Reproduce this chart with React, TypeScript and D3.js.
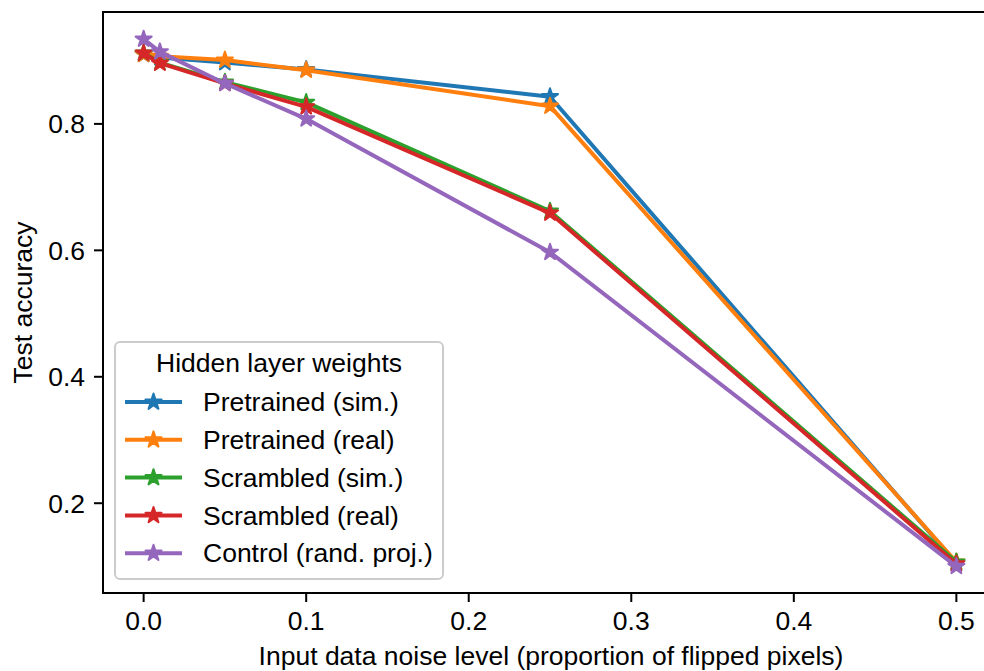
import React from "react";
import * as d3 from "d3";

const noiseLevels = [0, 0.01, 0.05, 0.1, 0.25, 0.5];
const pretrainedSim = [0.91, 0.905, 0.897, 0.886, 0.843, 0.105];
const pretrainedReal = [0.91, 0.907, 0.901, 0.885, 0.828, 0.107];
const scrambledSim = [0.912, 0.897, 0.866, 0.834, 0.662, 0.107];
const scrambledReal = [0.912, 0.896, 0.864, 0.827, 0.659, 0.104];
const controlProj = [0.934, 0.914, 0.864, 0.808, 0.597, 0.1];

const seriesNames = [
  "Pretrained (sim.)",
  "Pretrained (real)",
  "Scrambled (sim.)",
  "Scrambled (real)",
  "Control (rand. proj.)",
];
const seriesValues = [pretrainedSim, pretrainedReal, scrambledSim, scrambledReal, controlProj];
const colors = ["#1f77b4", "#ff7f0e", "#2ca02c", "#d62728", "#9467bd"];

const xTicks = [0, 0.1, 0.2, 0.3, 0.4, 0.5];
const yTicks = [0.2, 0.4, 0.6, 0.8];

const W = 984;
const H = 671;
const FONT = "'Liberation Sans', Arial, sans-serif";
const FS = 26.5;

export default function App() {
  const x = d3.scaleLinear().domain([-0.025, 0.525]).range([103, 997]);
  const y = d3.scaleLinear().domain([0.058, 0.977]).range([593, 12]);
  const line = d3
    .line<[number, number]>()
    .x((d) => x(d[0]))
    .y((d) => y(d[1]));
  const star = d3.symbol().type(d3.symbolStar).size(80)();

  const left = x(-0.025);
  const right = x(0.525);
  const top = y(0.977);
  const bottom = y(0.058);

  const legX = 115;
  const legY = 342;
  const legW = 328;
  const legH = 237;
  const rowY = (i: number) => 402 + i * 37.8;

  return (
    <svg
      width={W}
      height={H}
      style={{ position: "absolute", left: 0, top: 0, background: "#fff" }}
      fontFamily={FONT}
    >
      <rect x={0} y={0} width={W} height={H} fill="#fff" />
      {seriesValues.map((vals, si) => {
        const pts: [number, number][] = noiseLevels.map((n, i) => [n, vals[i]]);
        return (
          <g key={si}>
            <path d={line(pts) || ""} fill="none" stroke={colors[si]} strokeWidth={4} strokeLinejoin="round" />
            {pts.map((p, i) => (
              <path
                key={i}
                d={star || ""}
                transform={`translate(${x(p[0])},${y(p[1])})`}
                fill={colors[si]}
                stroke={colors[si]}
                strokeWidth={2}
                strokeLinejoin="round"
              />
            ))}
          </g>
        );
      })}
      {/* spines */}
      <rect x={left} y={top} width={right - left} height={bottom - top} fill="none" stroke="#000" strokeWidth={2} />
      {/* x ticks */}
      {xTicks.map((t) => (
        <g key={t} transform={`translate(${x(t)},${bottom})`}>
          <line y1={0} y2={9} stroke="#000" strokeWidth={2} />
          <text y={37} textAnchor="middle" fontSize={FS} fill="#000">
            {t.toFixed(1)}
          </text>
        </g>
      ))}
      {yTicks.map((t) => (
        <g key={t} transform={`translate(${left},${y(t)})`}>
          <line x1={0} x2={-9} stroke="#000" strokeWidth={2} />
          <text x={-18} dy="0.35em" textAnchor="end" fontSize={FS} fill="#000">
            {t.toFixed(1)}
          </text>
        </g>
      ))}
      <text x={551} y={665} textAnchor="middle" fontSize={FS} fill="#000">
        Input data noise level (proportion of flipped pixels)
      </text>
      <text
        transform={`translate(32,${(top + bottom) / 2}) rotate(-90)`}
        textAnchor="middle"
        fontSize={FS}
        fill="#000"
      >
        Test accuracy
      </text>
      {/* legend */}
      <rect
        x={legX}
        y={legY}
        width={legW}
        height={legH}
        rx={5}
        fill="#fff"
        fillOpacity={0.8}
        stroke="#cccccc"
        strokeWidth={2}
      />
      <text x={legX + legW / 2} y={372} textAnchor="middle" fontSize={FS} fill="#000">
        Hidden layer weights
      </text>
      {seriesNames.map((name, i) => (
        <g key={name} transform={`translate(0,${rowY(i)})`}>
          <line x1={125} x2={182} stroke={colors[i]} strokeWidth={4} />
          <path
            d={star || ""}
            transform="translate(153.5,0)"
            fill={colors[i]}
            stroke={colors[i]}
            strokeWidth={2}
            strokeLinejoin="round"
          />
          <text x={203} dy="0.35em" fontSize={FS} fill="#000">
            {name}
          </text>
        </g>
      ))}
    </svg>
  );
}
